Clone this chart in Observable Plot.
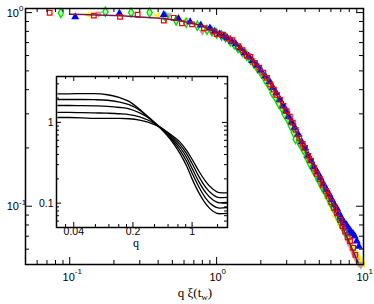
<!DOCTYPE html>
<html><head><meta charset="utf-8">
<script src="https://cdn.jsdelivr.net/npm/d3@7"></script>
<script src="https://cdn.jsdelivr.net/npm/@observablehq/plot@0.6"></script>
<style>
body{margin:0;background:#fff;}
#wrap{position:relative;width:374px;height:304px;}
#wrap svg{position:absolute;}
</style></head><body><div id="wrap"></div>
<script>
// ---------- main plot data ----------
const masterX = [0.1,0.2,0.3,0.45,0.6,0.8,1.0,1.3,1.6,2.0,2.5,3.0,3.5,4.0,5.0,6.0,7.0,8.0,9.2];
const masterY = [0.98,0.965,0.95,0.928,0.9,0.85,0.79,0.70,0.605,0.50,0.39,0.30,0.24,0.195,0.14,0.106,0.082,0.065,0.051];
const redPts = [[0.073,0.998],[0.146,0.965],[0.22,0.95],[0.29,0.975],[0.437,0.91],[0.51,0.94],[0.58,0.88],[0.68,0.87],[0.82,0.83],[0.95,0.80],[1.1,0.77],[1.28,0.72],[1.5,0.64],[1.7,0.59],[1.95,0.52],[2.2,0.46],[2.45,0.40],[2.7,0.355],[3.0,0.31],[3.3,0.27],[3.65,0.225],[4.0,0.20],[4.4,0.172],[4.8,0.147],[5.3,0.128],[5.8,0.113],[6.3,0.098],[6.9,0.085],[7.5,0.074],[8.1,0.066],[8.8,0.056],
  [1.0,0.775],[1.2,0.735],[1.4,0.67],[1.6,0.6],[1.82,0.55],[2.08,0.49],[2.32,0.425],[2.58,0.375],[2.85,0.33],[3.15,0.29],[3.45,0.248],[3.85,0.21],[4.2,0.182],[4.6,0.158],[5.05,0.138],[5.55,0.12],[6.05,0.105],[6.6,0.092],[7.2,0.079],[7.8,0.069],[8.5,0.061]];
const bluePts = [[0.109,0.95],[0.218,0.99],[0.437,0.975],[0.55,0.93],[0.66,0.895],[0.78,0.86],[0.9,0.83],[1.05,0.775],[1.18,0.74],[1.35,0.69],[1.55,0.62],[1.75,0.565],[2.0,0.505],[2.3,0.44],[2.55,0.385],[2.85,0.33],[3.1,0.29],[3.4,0.255],[3.8,0.215],[4.2,0.183],[4.6,0.16],[5.1,0.14],[5.6,0.122],[6.1,0.108],[6.6,0.097],[7.0,0.088],[7.4,0.082],[7.9,0.077],[8.3,0.073],[8.7,0.07],[9.3,0.062],
  [0.97,0.8],[1.12,0.755],[1.27,0.71],[1.45,0.655],[1.65,0.595],[1.88,0.535],[2.15,0.47],[2.42,0.41],[2.7,0.355],[2.98,0.31],[3.25,0.272],[3.6,0.235],[4.0,0.2],[4.4,0.172],[4.85,0.15],[5.35,0.13],[5.85,0.115],[6.35,0.102],[6.8,0.092],[7.2,0.085],[7.65,0.08],[8.1,0.075],[8.5,0.072],[9.0,0.066]];
const greenPts = [[0.087,0.995],[0.175,1.01],[0.262,1.0],[0.35,1.0],[0.45,0.95],[0.53,0.91],[0.62,0.885],[0.74,0.855],[0.86,0.815],[1.0,0.78],[1.15,0.745],[1.32,0.685],[1.5,0.625],[1.7,0.57],[1.9,0.515],[2.15,0.45],[2.4,0.385],[2.65,0.34],[2.9,0.3],[3.2,0.26],[3.45,0.222],[3.9,0.196],[4.3,0.167],[4.75,0.146],[5.2,0.127],[5.7,0.112],[6.2,0.099],[6.7,0.088],[7.2,0.078],[7.7,0.072],
  [0.93,0.8],[1.08,0.762],[1.24,0.71],[1.4,0.655],[1.6,0.6],[1.8,0.545],[2.02,0.485],[2.28,0.42],[2.52,0.365],[2.78,0.322],[3.05,0.282],[3.35,0.24],[3.7,0.21],[4.1,0.18],[4.5,0.157],[4.95,0.137],[5.45,0.12],[5.95,0.105],[6.45,0.094],[6.95,0.083],[7.45,0.075]];
const yellowPts = [[0.133,0.975],[0.394,0.97],[0.6,0.91],[0.75,0.86],[0.88,0.81],[1.03,0.77],[1.2,0.72],[1.4,0.655],[1.62,0.59],[1.85,0.52],[2.1,0.46],[2.35,0.4],[2.6,0.35],[2.9,0.3],[3.15,0.265],[3.45,0.235],[3.7,0.207],[4.1,0.18],[4.5,0.156],[4.9,0.136],[5.4,0.118],[5.9,0.102],[6.4,0.089],[6.9,0.08],[7.3,0.076],[7.9,0.066],[8.4,0.06],[9.0,0.055],[9.5,0.052],[9.8,0.05],
  [0.96,0.79],[1.11,0.745],[1.3,0.69],[1.5,0.625],[1.74,0.555],[1.98,0.49],[2.22,0.43],[2.48,0.375],[2.75,0.325],[3.02,0.283],[3.3,0.25],[3.58,0.22],[3.9,0.193],[4.3,0.167],[4.7,0.146],[5.15,0.127],[5.65,0.11],[6.15,0.096],[6.65,0.085],[7.1,0.078],[7.6,0.071],[8.15,0.063],[8.7,0.057],[9.25,0.053]];
const tanPts = [[0.158,0.98],[0.47,0.96],[0.8,0.79],[0.98,0.78],[1.12,0.76],[1.25,0.71],[1.42,0.66],[1.65,0.6],[1.88,0.53],[2.05,0.48],[2.3,0.43],[2.55,0.375],[2.8,0.33],[3.05,0.3],[3.35,0.258],[3.6,0.23],[4.05,0.19],[4.45,0.163],[4.95,0.14],[5.45,0.12],[6.0,0.104],[6.6,0.089],[7.2,0.076],[7.8,0.066],[8.4,0.058],[9.0,0.052],[9.6,0.049],
  [1.05,0.77],[1.33,0.685],[1.53,0.625],[1.76,0.565],[1.97,0.505],[2.18,0.455],[2.42,0.4],[2.68,0.35],[2.92,0.315],[3.2,0.275],[3.48,0.243],[3.8,0.21],[4.25,0.175],[4.7,0.151],[5.2,0.13],[5.7,0.112],[6.3,0.096],[6.9,0.082],[7.5,0.071],[8.1,0.062],[8.7,0.055],[9.3,0.05]];
const xMajor = [0.1,1,10];
const xMinor = [0.06,0.07,0.08,0.09,0.2,0.3,0.4,0.5,0.6,0.7,0.8,0.9,2,3,4,5,6,7,8,9];
const yMajor = [0.1,1];
const yMinor = [0.06,0.07,0.08,0.09,0.2,0.3,0.4,0.5,0.6,0.7,0.8,0.9];
const xLabels = [{v:0.1,e:"-1"},{v:1,e:"0"},{v:10,e:"1"}];
const yLabels = [{v:0.1,e:"-1"},{v:1,e:"0"}];

// ---------- inset data ----------
const qGrid = [0.026,0.035,0.05,0.07,0.1,0.14,0.18,0.24,0.3,0.36,0.42,0.5,0.6,0.72,0.86,1.0,1.2,1.45,1.75,2.1,2.62];
const curveA = [2.26,2.26,2.27,2.27,2.2,2.02,1.82,1.45,1.17,0.98,0.85,0.7,0.55,0.41,0.29,0.2,0.135,0.098,0.08,0.074,0.075];
const curveB = [1.92,1.92,1.92,1.91,1.88,1.78,1.66,1.42,1.18,1.0,0.86,0.72,0.58,0.45,0.33,0.235,0.16,0.115,0.094,0.087,0.088];
const curveC = [1.62,1.62,1.61,1.6,1.58,1.53,1.47,1.31,1.15,1.0,0.87,0.74,0.61,0.49,0.37,0.27,0.185,0.135,0.11,0.101,0.102];
const curveD = [1.33,1.33,1.32,1.31,1.3,1.28,1.25,1.17,1.07,0.97,0.87,0.76,0.64,0.53,0.41,0.31,0.215,0.157,0.128,0.117,0.118];
const curveE = [1.15,1.15,1.14,1.12,1.12,1.12,1.11,1.07,1.01,0.94,0.87,0.77,0.67,0.57,0.45,0.35,0.25,0.185,0.15,0.135,0.134];
const qMajor = [0.04,0.2,1];
const qMinor = [0.032,0.072,0.104,0.136,0.168,0.36,0.52,0.68,0.84,2];
const sMajor = [0.1,1];
const sMinor = [0.05,0.06,0.07,0.08,0.09,0.2,0.3,0.4,0.5,0.6,0.7,0.8,0.9,2,3];
const qLabels = ["0.04","0.2","1"];
const sLabels = ["0.1","1"];

// ---------- main ----------
const W=374,H=304,mL=25,mR=11,mT=8,mB=40;
const fw=W-mL-mR, fh=H-mT-mB;
const pts = a => a.map(([x,y])=>({x,y}));
const triLeft = {draw(c,size){const r=Math.sqrt(size/Math.PI);c.moveTo(-r,0);c.lineTo(r*0.85,-r);c.lineTo(r*0.85,r);c.closePath();}};
const triDown = {draw(c,size){const r=Math.sqrt(size/Math.PI);c.moveTo(0,r);c.lineTo(-r,-r*0.8);c.lineTo(r,-r*0.8);c.closePath();}};
const ff = "Liberation Sans, Arial, sans-serif";

function frameTicks(xs, ys, len, w, h){
  return [
    Plot.tickX(xs,{x:d=>d,insetTop:h-len,stroke:"black"}),
    Plot.tickX(xs,{x:d=>d,insetBottom:h-len,stroke:"black"}),
    Plot.tickY(ys,{y:d=>d,insetRight:w-len,stroke:"black"}),
    Plot.tickY(ys,{y:d=>d,insetLeft:w-len,stroke:"black"})
  ];
}

const main = Plot.plot({
  width:W,height:H,marginLeft:mL,marginRight:mR,marginTop:mT,marginBottom:mB,
  style:{background:"white",fontFamily:ff,overflow:"visible"},
  x:{type:"log",domain:[0.05,10],axis:null},
  y:{type:"log",domain:[0.05,1.05],axis:null},
  marks:[
    Plot.dot(pts(yellowPts),{x:"x",y:"y",symbol:triLeft,r:3,fill:"#ffff00",stroke:"#e8e800",strokeWidth:0.5}),
    Plot.dot(pts(tanPts),{x:"x",y:"y",symbol:triDown,r:3,fill:"#c9a0a0",stroke:"#b08a8a",strokeWidth:0.5}),
    Plot.dot(pts(greenPts),{x:"x",y:"y",symbol:"diamond",r:2.8,fill:"#b8ffb8",stroke:"#00dd00",strokeWidth:1.3}),
    Plot.dot(pts(bluePts),{x:"x",y:"y",symbol:"triangle",r:3,fill:"#0000ff"}),
    Plot.dot(pts(redPts),{x:"x",y:"y",symbol:"square",r:2.6,fill:"none",stroke:"#ff0000",strokeWidth:1.2}),
    Plot.line(masterX.map((x,i)=>({x,y:masterY[i]})),{x:"x",y:"y",stroke:"#7a1848",strokeWidth:1.5,curve:"monotone-x"}),
    ...frameTicks(xMajor.filter(v=>v<10),yMajor,7,fw,fh),
    ...frameTicks(xMinor,yMinor,4,fw,fh),
    Plot.frame({stroke:"black",strokeWidth:1.5}),
    Plot.text(xLabels,{x:"v",frameAnchor:"bottom",text:()=>"10",textAnchor:"middle",dx:-1,dy:16,fontSize:11,fill:"black"}),
    Plot.text(xLabels,{x:"v",frameAnchor:"bottom",text:"e",textAnchor:"start",dx:5,dy:9.5,fontSize:8,fill:"black"}),
    Plot.text(yLabels,{y:"v",frameAnchor:"left",text:()=>"10",textAnchor:"end",dx:-6.5,dy:0.5,fontSize:11,fill:"black"}),
    Plot.text(yLabels,{y:"v",frameAnchor:"left",text:"e",textAnchor:"start",dx:-6.5,dy:-4,fontSize:8,fill:"black"})
  ]
});
const msvg = d3.select(main);
const t = msvg.append("text").attr("x", mL+fw/2+1).attr("y", 297).attr("text-anchor","middle")
  .attr("font-family","Liberation Serif, Times New Roman, serif").attr("font-size",13).attr("fill","black");
t.append("tspan").text("q ξ(t");
t.append("tspan").attr("font-size",9).attr("dy",3).text("w");
t.append("tspan").attr("dy",-3).text(")");
main.style.left="0px"; main.style.top="0px";
document.getElementById("wrap").appendChild(main);

// ---------- inset ----------
const iL=30,iR=2,iT=2,iB=28, iw=171, ih=151;
const insetData = [curveA,curveB,curveC,curveD,curveE].flatMap((arr,k)=>arr.map((s,j)=>({q:qGrid[j],s,k})));
const inset = Plot.plot({
  width:iL+iw+iR,height:iT+ih+iB,marginLeft:iL,marginRight:iR,marginTop:iT,marginBottom:iB,
  style:{background:"none",fontFamily:ff,overflow:"visible"},
  x:{type:"log",domain:[0.025,2.62],axis:null},
  y:{type:"log",domain:[0.05,3.7],axis:null},
  marks:[
    Plot.frame({fill:"white"}),
    Plot.line(insetData,{x:"q",y:"s",z:"k",stroke:"black",strokeWidth:1.3,curve:"monotone-x"}),
    ...frameTicks(qMajor,sMajor,5,iw,ih),
    ...frameTicks(qMinor,sMinor,3,iw,ih),
    Plot.frame({stroke:"black",strokeWidth:1.5}),
    Plot.text(qMajor,{x:d=>d,frameAnchor:"bottom",text:(d,i)=>qLabels[i],textAnchor:"middle",dy:7.5,fontSize:10.5,fill:"black"}),
    Plot.text(sMajor,{y:d=>d,frameAnchor:"left",text:(d,i)=>sLabels[i],textAnchor:"end",dx:-3,fontSize:10.5,fill:"black"}),
    Plot.text(["q"],{frameAnchor:"bottom",text:d=>d,dx:-6,dy:19.5,fontSize:12,fontFamily:"Liberation Serif, serif",fill:"black"})
  ]
});
inset.style.left=(mL+31-iL)+"px"; inset.style.top=(76-iT)+"px";
document.getElementById("wrap").appendChild(inset);
</script></body></html>
